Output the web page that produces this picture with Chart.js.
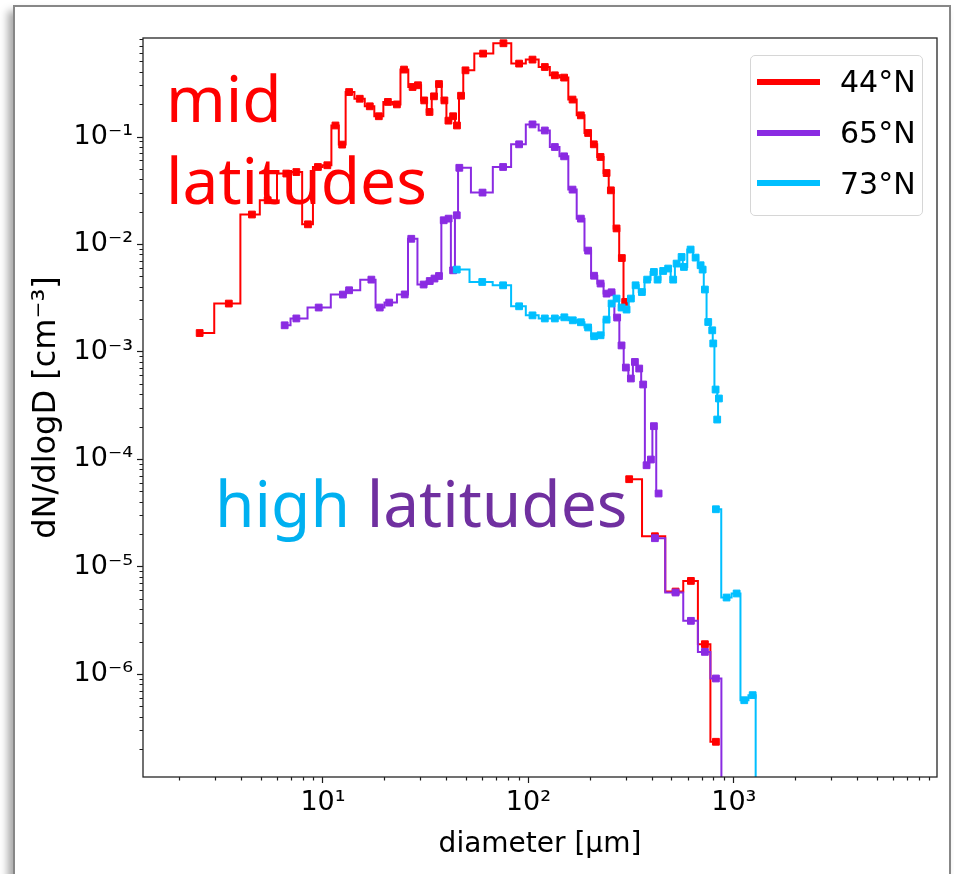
<!DOCTYPE html>
<html>
<head>
<meta charset="utf-8">
<title>dN/dlogD vs diameter</title>
<script src="https://cdn.jsdelivr.net/npm/chart.js@4.4.1/dist/chart.umd.min.js"></script>
<style>
  html, body { margin: 0; padding: 0; background: #fff; overflow: hidden; }
  #frame { position: absolute; left: 13px; top: 5px; width: 934px; height: 900px;
           border: 2px solid #878787; background: #fff;
           box-shadow: -5px 6px 8px rgba(0, 0, 0, 0.35); }
  #wrap { position: absolute; left: 0; top: 0; width: 954px; height: 874px; }
  .note { position: absolute; font-family: "Noto Sans", sans-serif; font-size: 64px; white-space: nowrap; }
  #legend { position: absolute; left: 750px; top: 55px; width: 171px; height: 159px;
            border: 1px solid #d6d6d6; border-radius: 5px; background: rgba(255, 255, 255, 0.8); }
  .swatch { position: absolute; left: 6px; width: 63px; height: 6px; }
  .lbl { position: absolute; left: 89px; font-family: "DejaVu Sans", sans-serif;
         font-size: 30px; line-height: 30px; color: #000; white-space: nowrap; }
</style>
</head>
<body>
<div id="frame"></div>
<div id="wrap"><canvas id="chart"></canvas></div>
<div class="note" style="left:166px; top:57px; line-height:82px; color:#ff0000;">mid<br>latitudes</div>
<div class="note" style="left:215px; top:471px; line-height:64px;"><span style="color:#00b0f0;">high</span> <span style="color:#7030a0;">latitudes</span></div>
<div id="legend"></div>

<script>
// bin centre diameter [um] and dN/dlogD [cm-3]
// a null value marks the break between two instruments
const diam44 = [2.51, 3.48, 4.51, 5.38, 6.63, 7.42, 8.45, 9.45, 10.5, 11.5, 12.4, 13.4, 15.1, 16.9, 18.7,
  20.7, 22.9, 24.8, 27.3, 29.0, 31.1, 33.0, 34.7, 36.7, 39.0, 40.8, 43.0, 44.9, 47.0, 49.4, 60.2, 75.6,
  90.1, 104.7, 120.2, 134.5, 149.2, 164.0, 180.0, 195.3, 208.2, 224.5, 240.2, 252, 268.6, 285.0, 295.8,
  295.8, 309.4, 412.8, 520.6, 618, 723, 818];
const dn44 = [1.50e-3, 2.82e-3, 1.90e-2, 2.58e-2, 4.57e-2, 4.72e-2, 1.54e-2, 5.26e-2, 5.46e-2, 0.128,
  8.50e-2, 0.262, 0.227, 0.193, 0.156, 0.212, 0.201, 0.424, 0.292, 0.303, 0.219, 0.171, 0.239, 0.311,
  0.219, 0.142, 0.156, 0.128, 0.242, 0.417, 0.597, 0.745, 0.482, 0.525, 0.448, 0.375, 0.357, 0.223,
  0.159, 0.109, 8.55e-2, 6.52e-2, 4.62e-2, 3.19e-2, 1.41e-2, 7.48e-3, 2.92e-3,
  null, 6.55e-5, 1.93e-5, 5.90e-6, 7.41e-6, 1.91e-6, 2.36e-7];

const diam65 = [6.51, 7.42, 9.53, 12.5, 13.4, 17.2, 18.9, 21.0, 25.0, 26.9, 30.9, 33.1, 34.9, 36.7, 38.7,
  40.9, 43.0, 44.8, 46.1, 59.8, 75.3, 90.1, 104.7, 120.2, 134.5, 149.2, 164.0, 180, 195.3, 208.7, 224.5,
  240.2, 254, 270.4, 284, 298.1, 315.4, 329.9, 346.2, 362, 376, 394.7, 408.2, 430.2,
  430.2, 412.8, 520.6, 618, 723, 818, 925];
const dn65 = [1.77e-3, 2.05e-3, 2.59e-3, 3.42e-3, 3.75e-3, 4.71e-3, 2.59e-3, 2.88e-3, 3.43e-3, 1.13e-2,
  4.24e-3, 4.57e-3, 4.82e-3, 5.09e-3, 1.68e-2, 1.74e-2, 5.75e-3, 1.87e-2, 5.17e-2, 3.04e-2, 5.26e-2,
  8.55e-2, 0.131, 0.115, 8.07e-2, 6.61e-2, 3.24e-2, 1.74e-2, 8.77e-3, 5.12e-3, 4.33e-3, 3.49e-3, 3.59e-3,
  2.09e-3, 1.15e-3, 7.16e-4, 5.66e-4, 8.07e-4, 7.01e-4, 4.98e-4, 8.83e-5, 9.98e-5, 2.04e-4, 4.82e-5,
  null, 1.85e-5, 5.78e-6, 3.15e-6, 1.62e-6, 9.16e-7, 1e-8];

const diam73 = [44.8, 59.6, 75.3, 90.1, 104.7, 120.2, 134.5, 149.6, 164.5, 180, 195.3, 208.9, 224.5, 240.2,
  254, 268.6, 284, 300.5, 315.4, 332.5, 356.8, 378.6, 408.2, 425.4, 453, 479, 506.8, 526.5, 556.8, 571.5,
  616, 651.5, 689, 705, 723, 750.5, 785, 794, 815, 846, 830,
  830, 818, 922, 1032, 1124, 1235, 1321];
const dn73 = [5.84e-3, 4.48e-3, 4.17e-3, 2.66e-3, 2.19e-3, 2.05e-3, 2.05e-3, 2.10e-3, 1.97e-3, 1.89e-3,
  1.69e-3, 1.40e-3, 1.43e-3, 2.00e-3, 2.82e-3, 3.14e-3, 2.59e-3, 2.48e-3, 3.14e-3, 4.17e-3, 3.61e-3,
  4.71e-3, 5.55e-3, 4.71e-3, 5.67e-3, 5.97e-3, 4.71e-3, 6.64e-3, 7.65e-3, 6.18e-3, 8.97e-3, 7.55e-3,
  6.41e-3, 5.84e-3, 3.81e-3, 1.90e-3, 1.59e-3, 1.20e-3, 4.47e-4, 3.69e-4, 2.35e-4,
  null, 3.44e-5, 5.19e-6, 5.66e-6, 5.75e-7, 6.41e-7, 1e-8];

const seriesLabels = ['44°N', '65°N', '73°N'];
const seriesColors = ['#ff0000', '#8a2be2', '#00bfff'];

const xMajor = [10, 100, 1000];
const xTickLabels = ['10¹', '10²', '10³'];
const yMajor = [1e-6, 1e-5, 1e-4, 1e-3, 1e-2, 1e-1];
const yTickLabels = ['10⁻⁶', '10⁻⁵', '10⁻⁴', '10⁻³', '10⁻²', '10⁻¹'];

const FONT = 'DejaVu Sans';

function points(d, v) {
  return d.map(function (x, i) { return { x: x, y: v[i] }; });
}

// major tick at each decade, minor ticks at 2..9
function logTicks(scale) {
  const ticks = [];
  const e0 = Math.floor(Math.log10(scale.min));
  const e1 = Math.ceil(Math.log10(scale.max));
  for (let e = e0; e <= e1; e++) {
    for (let m = 1; m < 10; m++) {
      const v = m * Math.pow(10, e);
      if (v >= scale.min && v <= scale.max) ticks.push({ value: v, major: m === 1 });
    }
  }
  scale.ticks = ticks;
}

function labelFor(majors, labels) {
  return function (value) {
    for (let i = 0; i < majors.length; i++) {
      if (Math.abs(Math.log10(majors[i]) - Math.log10(value)) < 1e-6) return labels[i];
    }
    return '';
  };
}

// draws the four spines like matplotlib
const spines = {
  id: 'spines',
  afterDatasetsDraw(chart) {
    const a = chart.chartArea;
    const ctx = chart.ctx;
    ctx.save();
    ctx.strokeStyle = '#262626';
    ctx.lineWidth = 1.3;
    ctx.strokeRect(a.left, a.top, a.right - a.left, a.bottom - a.top);
    ctx.restore();
  }
};

const allD = [diam44, diam65, diam73];
const allV = [dn44, dn65, dn73];
const datasets = seriesLabels.map(function (lab, i) {
  return {
    label: lab,
    data: points(allD[i], allV[i]),
    borderColor: seriesColors[i],
    backgroundColor: seriesColors[i],
    pointBackgroundColor: seriesColors[i],
    pointBorderColor: seriesColors[i],
    borderWidth: 2,
    stepped: 'middle',
    fill: false,
    spanGaps: false,
    pointStyle: 'rect',
    pointRadius: 4.8,
    pointBorderWidth: 1,
    clip: 0,
    order: 3 - i
  };
});

new Chart(document.getElementById('chart'), {
  type: 'line',
  data: { datasets: datasets },
  plugins: [spines],
  options: {
    responsive: true,
    maintainAspectRatio: false,
    animation: false,
    events: [],
    layout: { padding: { left: 0, top: 38, right: 17, bottom: 0 } },
    plugins: { legend: { display: false }, tooltip: { enabled: false } },
    scales: {
      x: {
        type: 'logarithmic',
        min: 1.33,
        max: 9750,
        bounds: 'data',
        afterBuildTicks: logTicks,
        afterFit: function (s) { s.height = 97; },
        border: { display: false },
        grid: {
          drawOnChartArea: false,
          tickLength: 6,
          tickColor: '#1a1a1a',
          tickWidth: 1.2,
          tickBorderDash: function (c) { return c.tick && c.tick.major ? [] : [3.5, 50]; }
        },
        ticks: {
          autoSkip: false, maxRotation: 0, minRotation: 0, padding: 3.5,
          color: '#000', font: { family: FONT, size: 27 },
          callback: labelFor(xMajor, xTickLabels)
        },
        title: {
          display: true, text: 'diameter [μm]', color: '#000',
          font: { family: FONT, size: 28 }, padding: { top: 0, bottom: 12 }
        }
      },
      y: {
        type: 'logarithmic',
        min: 1.11e-7,
        max: 0.834,
        bounds: 'data',
        afterBuildTicks: logTicks,
        afterFit: function (s) { s.width = 143; },
        border: { display: false },
        grid: {
          drawOnChartArea: false,
          tickLength: 6,
          tickColor: '#1a1a1a',
          tickWidth: 1.2,
          tickBorderDash: function (c) { return c.tick && c.tick.major ? [] : [0, 2.5, 3.5, 50]; }
        },
        ticks: {
          autoSkip: false, padding: 4,
          color: '#000', font: { family: FONT, size: 27 },
          callback: labelFor(yMajor, yTickLabels)
        },
        title: {
          display: true, text: 'dN/dlogD [cm⁻³]', color: '#000',
          font: { family: FONT, size: 32 }, padding: { top: 27, bottom: 0 }
        }
      }
    }
  }
});

// legend box in the upper right corner of the axes
const legend = document.getElementById('legend');
seriesLabels.forEach(function (lab, i) {
  const cy = 25.7 + 50.8 * i;
  const sw = document.createElement('div');
  sw.className = 'swatch';
  sw.style.top = (cy - 3) + 'px';
  sw.style.background = seriesColors[i];
  legend.appendChild(sw);
  const tx = document.createElement('div');
  tx.className = 'lbl';
  tx.style.top = (cy - 14.4) + 'px';
  tx.textContent = lab;
  legend.appendChild(tx);
});
</script>
</body>
</html>
